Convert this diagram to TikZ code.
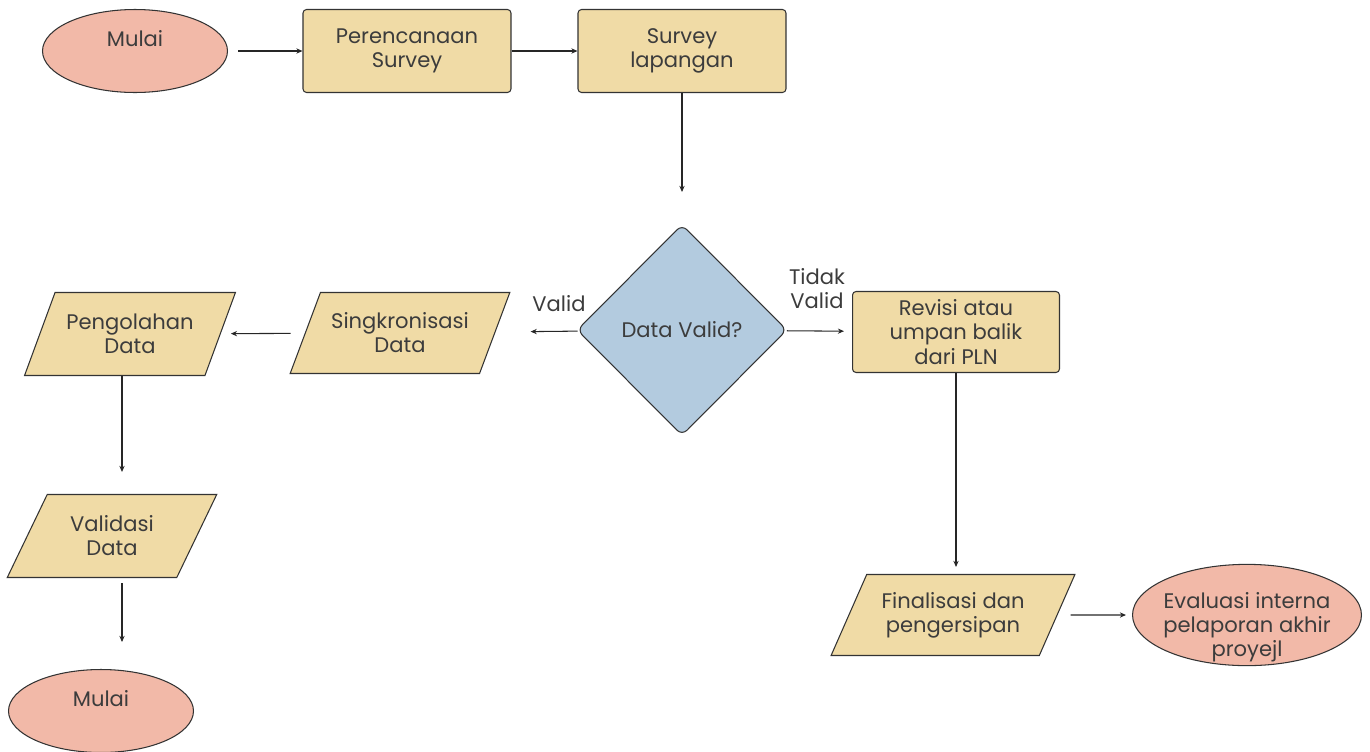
\documentclass[tikz,border=0pt]{standalone}
\usepackage{fontspec}
\setmainfont{Poppins}
\usetikzlibrary{positioning,shapes.geometric,arrows.meta}
\definecolor{endfill}{HTML}{F2B9A8}
\definecolor{stepfill}{HTML}{F0DBA6}
\definecolor{askfill}{HTML}{B3CBDF}
\definecolor{ink}{HTML}{3C3C3C}
\definecolor{rim}{HTML}{333333}

\begin{document}
\begin{tikzpicture}[x=0.02cm,y=-0.02cm,
    every node/.style={text=ink,font=\fontsize{12pt}{13.7pt}\selectfont},
    terminal/.style={ellipse,draw=rim,fill=endfill,line width=0.6pt,
      minimum width=3.7cm,minimum height=1.66cm,inner sep=0pt,align=center},
    process/.style={rectangle,draw=rim,fill=stepfill,line width=0.6pt,
      rounded corners=2pt,minimum width=4.16cm,minimum height=1.66cm,align=center},
    data/.style={trapezium,trapezium left angle=58.5,trapezium right angle=121.5,
      trapezium stretches=true,draw=rim,fill=stepfill,line width=0.6pt,
      minimum width=4.4cm,minimum height=1.62cm,inner sep=1pt,align=center},
    decision/.style={diamond,draw=rim,fill=askfill,line width=0.6pt,
      rounded corners=4pt,minimum width=4.2cm,minimum height=4.22cm},
    arr/.style={-{Stealth[length=3.5pt,width=3pt]},line width=0.6pt,draw=black!85}]
  \useasboundingbox (0,0) rectangle (1370,751);

  % top row
  \node[terminal,text depth=0.52cm] (start) at (135,51) {Mulai};
  \node[process] (plan) at (407,51) {Perencanaan\\Survey};
  \node[process] (field) at (682,51) {Survey\\lapangan};

  % decision
  \node[decision] (check) at (682,330) {Data Valid?};
  \node (yes) at (559,304) {Valid};
  \node[align=center] (no) at (817,289) {Tidak\\Valid};

  % left branch
  \node[data] (sync) at (400,333) {Singkronisasi\\Data};
  \node[data,minimum width=4.22cm,minimum height=1.66cm] (proc) at (130,334) {Pengolahan\\Data};
  \node[data,minimum width=4.22cm,minimum height=1.66cm] (valid) at (112,536) {Validasi\\Data};
  \node[terminal,text depth=0.52cm] (stop) at (101,711) {Mulai};
  \coordinate (lane) at (122,0);

  % right branch
  \node[process,minimum width=4.14cm,minimum height=1.62cm] (revise) at (956,332)
    {Revisi atau\\umpan balik\\dari PLN};
  \node[data,minimum width=4.88cm] (final) at (953,615) {Finalisasi dan\\pengersipan};
  \node[terminal,minimum width=4.58cm,minimum height=2.02cm,inner xsep=-0.06cm,inner ysep=-0.23cm]
    (eval) at (1247,615) {\rule{0pt}{0.82cm}Evaluasi interna\\pelaporan akhir\\proyejl};

  \draw[arr,shorten <=0.2cm] (start) -- (plan);
  \draw[arr] (plan) -- (field);
  \draw[arr,shorten >=0.64cm] (field) -- (check);
  \draw[arr,shorten >=0.7cm] (check) -- (sync);
  \draw[arr,shorten >=0.16cm] (check) -- (revise);
  \draw[arr,shorten <=0.28cm,shorten >=0.2cm] (sync) -- (proc);
  \draw[arr,shorten >=0.44cm] (proc.south -| lane) -- (valid.north -| lane);
  \draw[arr,shorten <=0.1cm,shorten >=0.54cm] (valid.south -| lane) -- (stop.north -| lane);
  \draw[arr,shorten >=0.14cm] (revise.south) -- (revise.south |- final.north);
  \draw[arr,shorten <=0.26cm,shorten >=0.12cm] (final) -- (eval);
\end{tikzpicture}
\end{document}
